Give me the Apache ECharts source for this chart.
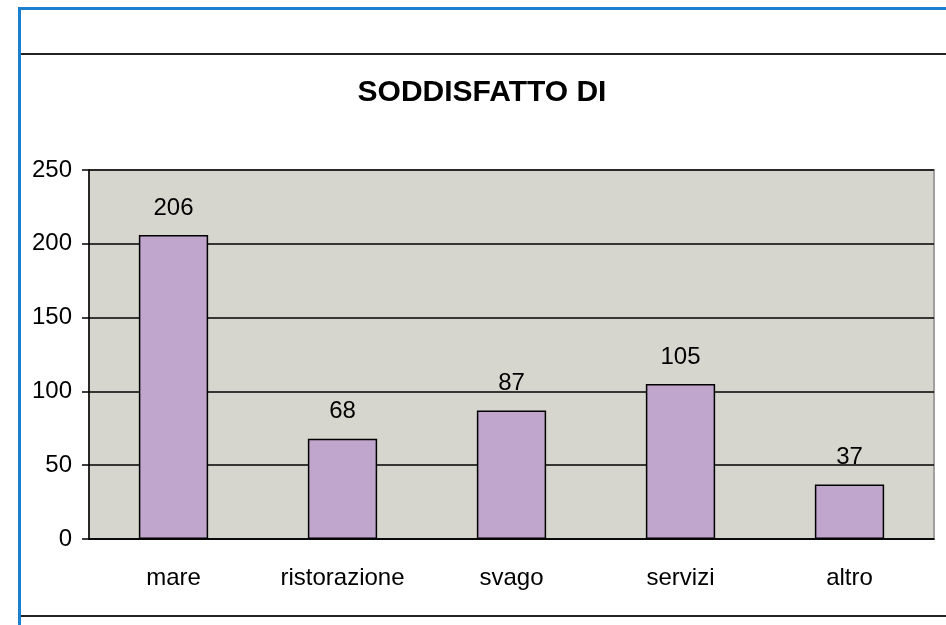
<!DOCTYPE html>
<html>
<head>
<meta charset="utf-8">
<script src="https://cdn.jsdelivr.net/npm/echarts@6/dist/echarts.min.js"></script>
<style>
    html, body { margin: 0; padding: 0; background: #fff; }
    #chart { width: 946px; height: 625px; }
</style>
</head>
<body>
<div id="chart"></div>
<script>
// chart data
const chartTitle = 'SODDISFATTO DI'
const categories = ['mare', 'ristorazione', 'svago', 'servizi', 'altro']
const values = [206, 68, 87, 105, 37]
const yMin = 0
const yMax = 250
const yStep = 50

const font = '"Liberation Sans", Arial, sans-serif'

const chart = echarts.init(document.getElementById('chart'))
chart.setOption({
    animation: false,
    backgroundColor: '#fff',
    title: {
        text: chartTitle,
        left: 477,
        top: 73,
        textAlign: 'center',
        textStyle: {
            fontFamily: font,
            fontSize: 30,
            fontWeight: 'bold',
            color: '#000'
        }
    },
    graphic: [
        {
            type: 'rect',
            shape: { x: 19.5, y: 8.5, width: 960, height: 700 },
            style: { fill: 'none', stroke: '#1a7fd0', lineWidth: 3 },
            silent: true
        },
        {
            type: 'line',
            shape: { x1: 21, y1: 54, x2: 946, y2: 54 },
            style: { stroke: '#222', lineWidth: 2 },
            silent: true
        },
        {
            type: 'line',
            shape: { x1: 21, y1: 616, x2: 946, y2: 616 },
            style: { stroke: '#222', lineWidth: 2 },
            silent: true
        }
    ],
    grid: {
        left: 89,
        top: 170,
        right: 12,
        bottom: 86,
        show: true,
        backgroundColor: '#d6d6ce',
        borderColor: '#a0a0a0',
        borderWidth: 2
    },
    xAxis: {
        type: 'category',
        data: categories,
        axisLine: { lineStyle: { color: '#000', width: 1.5 } },
        axisTick: { length: 6, lineStyle: { color: '#000', width: 1.5 } },
        axisLabel: {
            margin: 27,
            fontFamily: font,
            fontSize: 24,
            color: '#000'
        }
    },
    yAxis: {
        type: 'value',
        min: yMin,
        max: yMax,
        interval: yStep,
        axisLine: { show: true, lineStyle: { color: '#000', width: 1.5 } },
        axisTick: { show: true, length: 7, lineStyle: { color: '#000', width: 1.5 } },
        splitLine: { lineStyle: { color: '#000', width: 1.5 } },
        axisLabel: {
            margin: 17,
            fontFamily: font,
            fontSize: 24,
            color: '#000'
        }
    },
    series: [{
        type: 'bar',
        data: values,
        barWidth: '41%',
        itemStyle: {
            color: '#c0a5cd',
            borderColor: '#000',
            borderWidth: 1.5
        },
        label: {
            show: true,
            position: 'top',
            distance: 15,
            fontFamily: font,
            fontSize: 24,
            color: '#000'
        }
    }]
})
</script>
</body>
</html>
